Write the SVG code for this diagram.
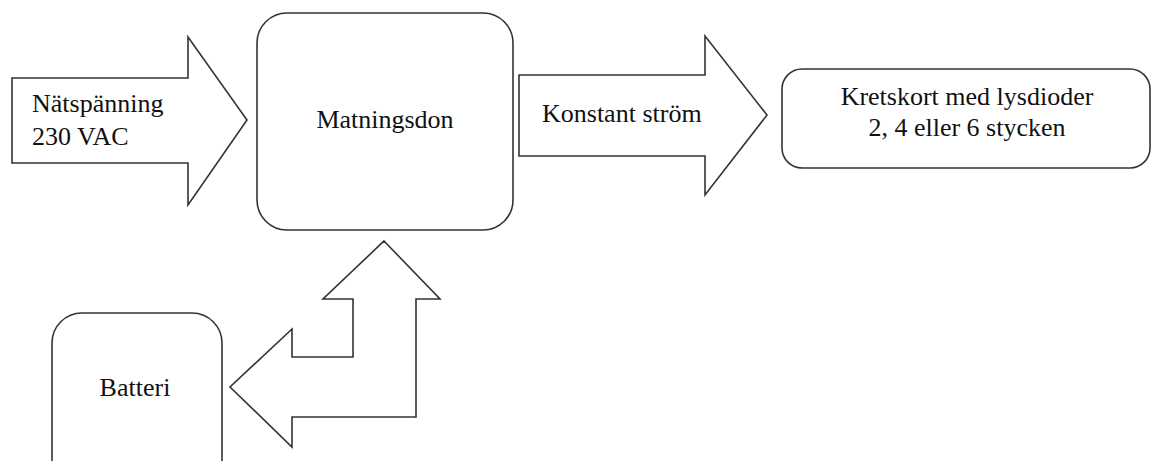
<svg xmlns="http://www.w3.org/2000/svg" width="1153" height="461" viewBox="0 0 1153 461">
<style>
.s{fill:#fff;stroke:#333;stroke-width:1.6;stroke-linejoin:miter}
.t{font-family:"Liberation Serif","Times New Roman",serif;font-size:26px;fill:#111}
.c{text-anchor:middle}
</style>
<rect width="1153" height="461" fill="#fff"/>
<g id="connectors">
<g id="arrow-natspanning">
<path class="s" d="M12,78 L188,78 L188,37 L247,120 L188,205 L188,163 L12,163 Z"/>
<text class="t" x="32" y="112">Nätspänning</text>
<text class="t" x="32" y="145">230 VAC</text>
</g>
<g id="arrow-konstant">
<path class="s" d="M519,75 L705,75 L705,36 L767,115 L705,195 L705,156 L519,156 Z"/>
<text class="t" x="542" y="122">Konstant ström</text>
</g>
<g id="arrow-batteri">
<path class="s" d="M384,241 L440,299 L416,299 L416,417 L292,417 L292,447 L230,387 L292,329 L292,357 L353,357 L353,299 L323,299 Z"/>
</g>
</g>
<g id="matningsdon">
<rect class="s" x="257" y="13" width="256" height="217" rx="30"/>
<text class="t c" x="385" y="128">Matningsdon</text>
</g>
<g id="kretskort">
<rect class="s" x="782" y="69" width="368" height="99" rx="20"/>
<text class="t c" x="967" y="105">Kretskort med lysdioder</text>
<text class="t c" x="967" y="136">2, 4 eller 6 stycken</text>
</g>
<g id="batteri">
<rect class="s" x="52" y="313" width="170" height="190" rx="30"/>
<text class="t c" x="135" y="396">Batteri</text>
</g>
</svg>
